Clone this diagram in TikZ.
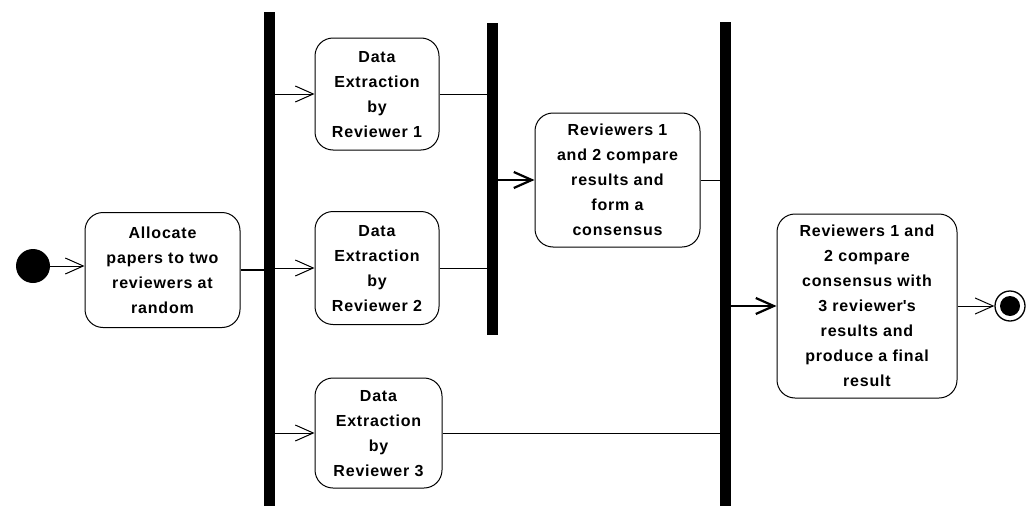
\documentclass[tikz,border=0pt]{standalone}
\usepackage{fontspec}
\setmainfont{Liberation Sans}[LetterSpace=5]
\usetikzlibrary{arrows.meta}

\tikzset{
  act/.style={draw, rounded corners=18pt, line width=1pt, align=center,
    font=\fontsize{16}{25}\selectfont\bfseries, inner sep=0pt, text depth=-12pt},
  bar/.style={fill=black, inner sep=0pt, minimum width=11pt},
  flow/.style={line width=1pt},
  heavy/.style={line width=2.2pt},
}

\begin{document}
\begin{tikzpicture}[x=1pt, y=-1pt, >={Straight Barb[length=18pt,width=16pt]}]
    \useasboundingbox (0,0) rectangle (1031,506);

    % 1. Start and end points
    \node[circle, fill=black, inner sep=0pt, minimum size=34pt] (start) at (33,266) {};
    \node[circle, draw, line width=1.3pt, inner sep=0pt, minimum size=30pt] (stop) at (1010,306) {};
    \fill (stop.center) circle (10pt);

    % 2. Activities
    \node[act, minimum width=155pt, minimum height=115pt] (alloc) at (162.5,270)
        {Allocate\\papers to two\\reviewers at\\random};
    \node[act, minimum width=124pt, minimum height=112pt] (ext1) at (377,94)
        {Data\\Extraction\\by\\Reviewer 1};
    \node[act, minimum width=124pt, minimum height=113pt] (ext2) at (377,268)
        {Data\\Extraction\\by\\Reviewer 2};
    \node[act, minimum width=127pt, minimum height=110pt] (ext3) at (378.5,433)
        {Data\\Extraction\\by\\Reviewer 3};
    \node[act, minimum width=165pt, minimum height=134pt] (pair) at (617.5,180)
        {Reviewers 1\\and 2 compare\\results and\\form a\\consensus};
    \node[act, minimum width=180pt, minimum height=184pt] (final) at (867,306)
        {Reviewers 1 and\\2 compare\\consensus with\\3 reviewer\textquotesingle s\\results and\\produce a final\\result};

    % 3. Fork and join bars
    \node[bar, minimum height=494pt] (fork) at (269.5,259) {};
    \node[bar, minimum height=312pt] (joinA) at (492.5,179) {};
    \node[bar, minimum height=484pt] (joinB) at (725.5,264) {};

    % 4. Flows
    \draw[flow, ->] (start.east) -- (alloc.west |- start.east);
    \draw[heavy] (alloc.east) -- (fork.west |- alloc.east);
    \draw[flow, ->] (fork.east |- ext1.west) -- (ext1.west);
    \draw[flow, ->] (fork.east |- ext2.west) -- (ext2.west);
    \draw[flow, ->] (fork.east |- ext3.west) -- (ext3.west);
    \draw[flow] (ext1.east) -- (joinA.west |- ext1.east);
    \draw[flow] (ext2.east) -- (joinA.west |- ext2.east);
    \draw[heavy, ->] (joinA.east |- pair.west) -- (pair.west);
    \draw[flow] (pair.east) -- (joinB.west |- pair.east);
    \draw[flow] (ext3.east) -- (joinB.west |- ext3.east);
    \draw[heavy, ->] (joinB.east |- final.west) -- (final.west);
    \draw[flow, ->] (final.east) -- (stop.west);

\end{tikzpicture}
\end{document}
